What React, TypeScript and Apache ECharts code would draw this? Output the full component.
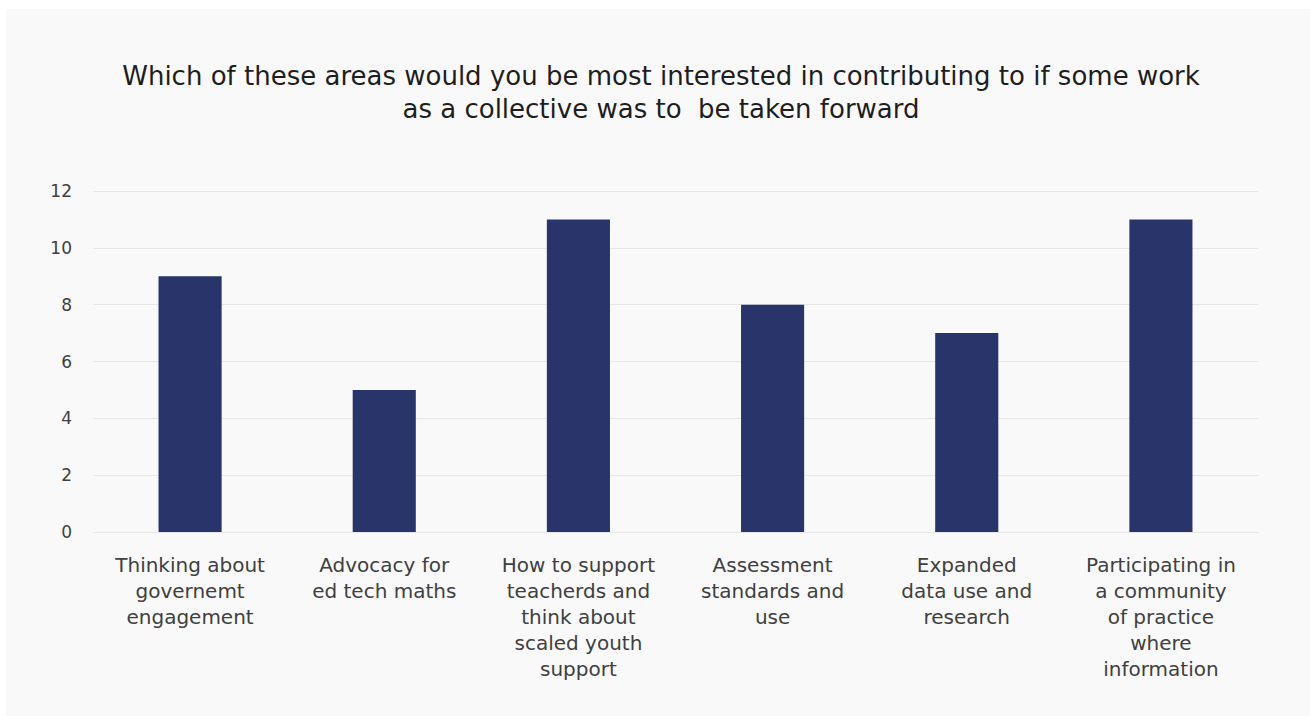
import React, { useEffect, useRef } from "react";
import * as echarts from "echarts";

const titleText =
  "Which of these areas would you be most interested in contributing to if some work\nas a collective was to  be taken forward";

const categories = [
  "Thinking about\ngovernemt\nengagement",
  "Advocacy for\ned tech maths",
  "How to support\nteacherds and\nthink about\nscaled youth\nsupport",
  "Assessment\nstandards and\nuse",
  "Expanded\ndata use and\nresearch",
  "Participating in\na community\nof practice\nwhere\ninformation",
];

const values = [9, 5, 11, 8, 7, 11];

const yTicks = { min: 0, max: 12, interval: 2 };

const FONT = "'DejaVu Sans', 'Noto Sans', sans-serif";

export default function App() {
  const ref = useRef<HTMLDivElement>(null);

  useEffect(() => {
    if (!ref.current) return;
    const chart = echarts.init(ref.current, undefined, { renderer: "svg" });
    chart.setOption({
      animation: false,
      backgroundColor: "#f9f9f9",
      title: {
        text: titleText,
        left: 650,
        top: 45,
        textAlign: "center",
        textStyle: {
          fontFamily: FONT,
          fontSize: 26,
          fontWeight: 500,
          color: "#1e1e1e",
          lineHeight: 33,
        },
      },
      grid: { left: 87, right: 52, top: 182, bottom: 184, containLabel: false },
      xAxis: {
        type: "category",
        data: categories,
        axisLine: { show: true, lineStyle: { color: "#e6e6e6", width: 1 } },
        axisTick: { show: false },
        axisLabel: {
          interval: 0,
          margin: 20,
          fontFamily: FONT,
          fontSize: 20,
          lineHeight: 26,
          color: "#404040",
          align: "center",
        },
      },
      yAxis: {
        type: "value",
        min: yTicks.min,
        max: yTicks.max,
        interval: yTicks.interval,
        axisLine: { show: false },
        axisTick: { show: false },
        splitLine: { lineStyle: { color: "#e6e6e6", width: 1 } },
        axisLabel: {
          margin: 21,
          fontFamily: FONT,
          fontSize: 17,
          color: "#404040",
        },
      },
      series: [
        {
          type: "bar",
          data: values,
          barWidth: "32.5%",
          itemStyle: { color: "#29346b" },
        },
      ],
    });
    return () => chart.dispose();
  }, []);

  return (
    <div
      style={{
        position: "absolute",
        left: 0,
        top: 0,
        width: 1310,
        height: 716,
        background: "#ffffff",
      }}
    >
      <div
        ref={ref}
        style={{ position: "absolute", left: 6, top: 9, width: 1304, height: 707 }}
      />
    </div>
  );
}
